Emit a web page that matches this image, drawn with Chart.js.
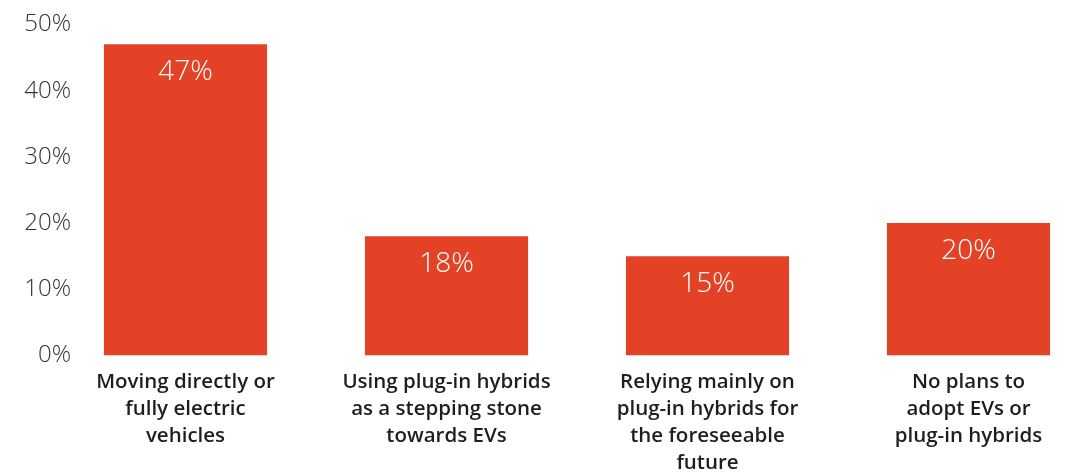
<!DOCTYPE html>
<html>
<head>
<meta charset="utf-8">
<script src="https://cdn.jsdelivr.net/npm/chart.js@4/dist/chart.umd.min.js"></script>
<style>
  html, body { margin: 0; padding: 0; background: #fff; overflow: hidden; }
  #wrap { width: 1068px; height: 473px; overflow: hidden; position: relative; }
  canvas { display: block; }
</style>
</head>
<body>
<div id="wrap"><canvas id="c" width="1100" height="473"></canvas></div>
<script>
const categories = [
  ["Moving directly or", "fully electric", "vehicles"],
  ["Using plug-in hybrids", "as a stepping stone", "towards EVs"],
  ["Relying mainly on", "plug-in hybrids for", "the foreseeable", "future"],
  ["No plans to", "adopt EVs or", "plug-in hybrids"]
];
const values = [47, 18, 15, 20];
const valueLabels = ["47%", "18%", "15%", "20%"];
const yTicks = [0, 10, 20, 30, 40, 50];

const barColor = "#E44226";
const yFontSize = 24;
const yFont = "300 " + yFontSize + "px 'Open Sans'";

// measure widest y label so the mirrored labels end right-aligned at a fixed x
const mctx = document.createElement("canvas").getContext("2d");
mctx.font = yFont;
const widestY = Math.max(...yTicks.map(v => mctx.measureText(v + "%").width));

const valueLabelPlugin = {
  id: "valueLabels",
  afterDatasetsDraw(chart) {
    const ctx = chart.ctx;
    const meta = chart.getDatasetMeta(0);
    ctx.save();
    ctx.fillStyle = "#ffffff";
    ctx.font = "300 28px 'Open Sans'";
    ctx.textAlign = "center";
    ctx.textBaseline = "middle";
    meta.data.forEach((bar, i) => {
      ctx.fillText(valueLabels[i], bar.x, bar.y + 28);
    });
    ctx.restore();
  }
};

new Chart(document.getElementById("c"), {
  type: "bar",
  data: {
    labels: categories,
    datasets: [{
      data: values,
      backgroundColor: barColor,
      borderWidth: 0,
      categoryPercentage: 1.0,
      barPercentage: 0.625
    }]
  },
  options: {
    responsive: false,
    animation: false,
    events: [],
    layout: { padding: { top: 24.5, right: 1, left: 0, bottom: 0 } },
    plugins: { legend: { display: false }, tooltip: { enabled: false } },
    scales: {
      x: {
        afterFit(scale) { scale.height = 117.5; },
        grid: { display: false, drawTicks: false },
        border: { display: false },
        ticks: {
          color: "#1e1e1e",
          font: { family: "Open Sans", size: 20.5, weight: "600", lineHeight: "27px" },
          padding: 13,
          maxRotation: 0,
          autoSkip: false
        }
      },
      y: {
        min: 0,
        max: 50,
        afterFit(scale) { scale.width = 55; },
        afterBuildTicks(scale) { scale.ticks = yTicks.map(v => ({ value: v })); },
        grid: { display: false, drawTicks: false },
        border: { display: false },
        ticks: {
          mirror: true,
          crossAlign: "far",
          color: "#333",
          font: { family: "Open Sans", size: yFontSize, weight: "300" },
          padding: 16 - widestY,
          callback: v => v + "%"
        }
      }
    }
  },
  plugins: [valueLabelPlugin]
});
</script>
</body>
</html>
